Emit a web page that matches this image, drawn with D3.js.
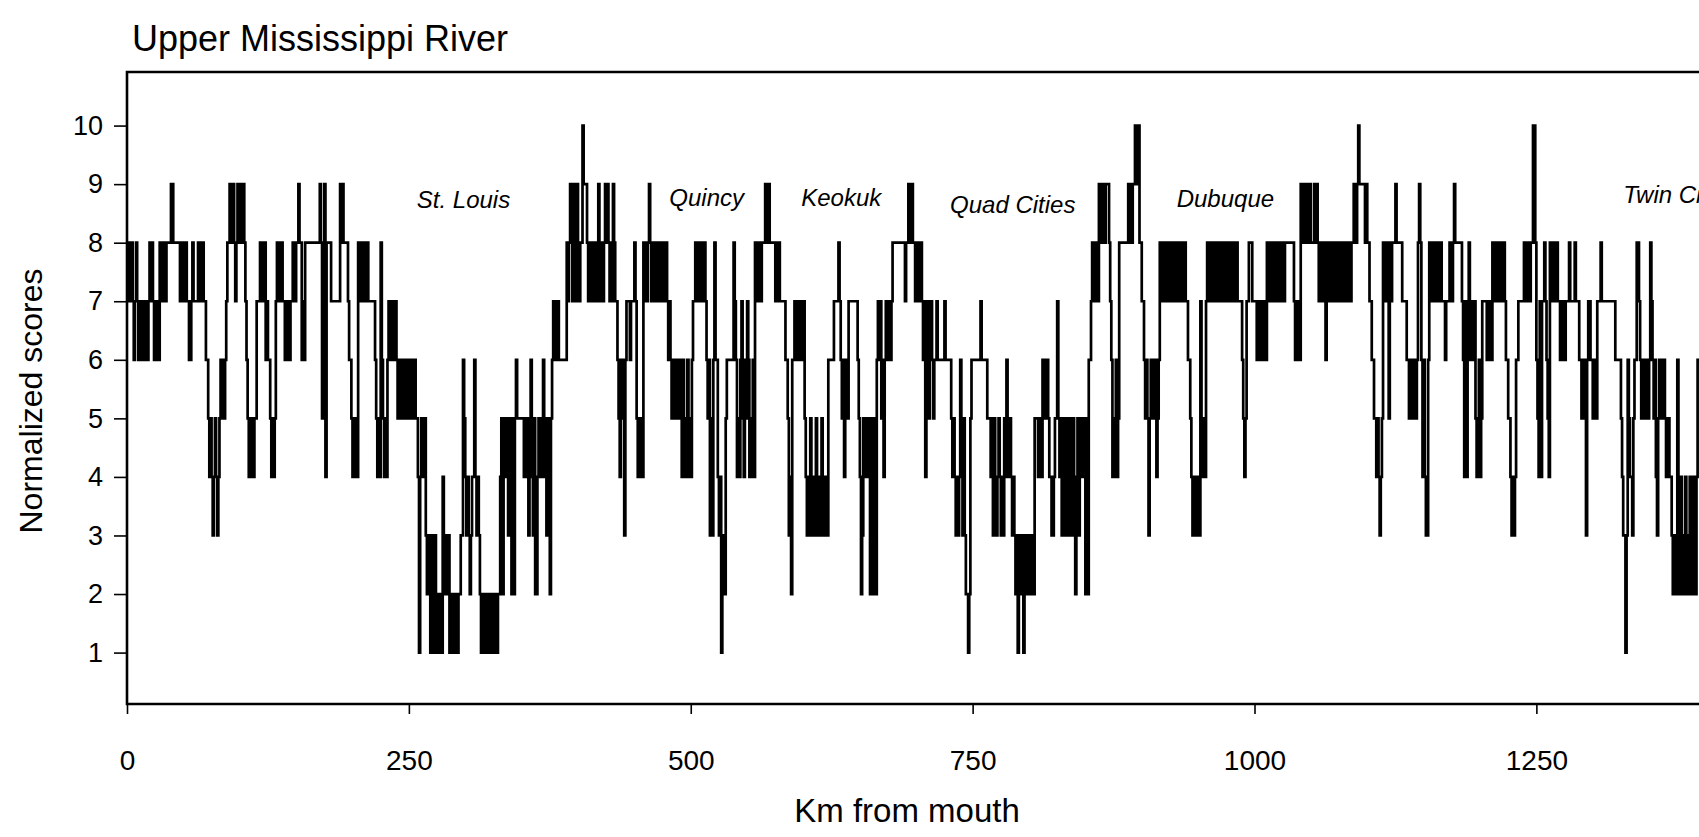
<!DOCTYPE html>
<html>
<head>
<meta charset="utf-8">
<script src="https://cdn.jsdelivr.net/npm/d3@7"></script>
<style>
  html, body { margin: 0; padding: 0; background: #ffffff; overflow: hidden; }
  svg { display: block; }
  text { font-family: "Liberation Sans", Arial, sans-serif; fill: #000; }
</style>
</head>
<body>
<svg id="chart" width="1699" height="837"></svg>
<script>
// ---------------- data ----------------
const chartTitle = "Upper Mississippi River";
const xLabel = "Km from mouth";
const yLabel = "Normalized scores";
const xTicks = [0, 250, 500, 750, 1000, 1250];
const yTicks = [1, 2, 3, 4, 5, 6, 7, 8, 9, 10];

const placeNames = ["St. Louis", "Quincy", "Keokuk", "Quad Cities", "Dubuque", "Twin Cities"];
const placeKm    = [257, 481, 598, 730, 931, 1327];
const placeScore = [8.59, 8.63, 8.63, 8.50, 8.61, 8.67];

// step series: [km from mouth, normalized score] (value holds until next km)
const scoreSteps = [
[0,8],[1,7],[2,8],[3,7],[4,8],[5,7],[6,6],[7,7],[8,8],[9,7],[10,6],[11,7],[12,6],[13,7],[14,6],[15,7],[16,6],[17,7],[18,6],[19,7],[20,8],[21,7],[22,8],[23,7],[24,6],[25,7],[26,6],[27,7],[28,6],[29,8],[30,7],[31,8],[32,7],[33,8],[34,7],[35,8],[39,9],[41,8],[47,7],[48,8],[49,7],[50,8],[51,7],[52,8],[53,7],[55,6],[57,7],[58,8],[59,7],[63,8],[64,7],[65,8],[66,7],[67,8],[68,7],[70,6],[72,5],[73,4],[74,5],[75,4],[76,3],[77,4],[78,5],[79,4],[80,3],[81,4],[82,5],[83,6],[84,5],[85,6],[86,5],[87,6],[88,7],[89,8],[91,9],[92,8],[94,9],[95,8],[96,7],[97,8],[98,9],[99,8],[100,9],[101,8],[103,9],[104,8],[105,7],[106,6],[107,5],[108,4],[109,5],[110,4],[111,5],[112,4],[113,5],[115,7],[118,8],[119,7],[120,8],[121,7],[122,8],[123,6],[124,7],[125,6],[127,5],[128,4],[129,5],[130,4],[131,5],[132,7],[133,8],[134,7],[135,8],[136,7],[137,8],[138,7],[140,6],[141,7],[142,6],[143,7],[144,6],[145,7],[147,8],[149,7],[150,8],[152,9],[153,8],[155,6],[156,7],[157,6],[158,8],
[171,9],[172,8],[173,5],[174,8],[175,9],[176,4],[177,8],[181,7],[189,9],[190,8],[191,9],[192,8],[196,7],[197,6],[199,5],[200,4],[201,5],[202,4],[203,5],[204,4],[205,8],[206,7],[207,8],[208,7],[209,8],[210,7],[211,8],[212,7],[213,8],[214,7],[220,6],[221,5],[222,4],[223,5],[224,4],[225,8],[226,6],[227,5],[228,4],[229,5],[230,4],[231,6],[232,7],[233,6],[234,7],[235,6],[236,7],[237,6],[238,7],[239,6],[240,5],[241,6],[242,5],[243,6],[244,5],[245,6],[246,5],[247,6],[248,5],[249,6],[250,5],[251,6],[252,5],[253,6],[254,5],[255,6],[256,5],[258,4],[259,1],[260,4],[261,5],[262,4],[263,5],[265,3],[266,2],[267,3],[268,2],[269,1],[270,3],[271,2],[272,1],[273,3],[274,2],[275,1],[276,2],[277,1],[278,2],[279,1],[280,4],[281,3],[282,2],[283,3],[284,2],[285,3],[286,1],[287,2],[288,1],[289,2],[290,1],[291,2],[293,1],[294,2],[296,3],[298,6],[299,5],[300,4],[301,3],[302,4],[303,3],[304,2],[305,3],[306,4],[308,6],[309,4],[310,3],[311,4],[312,3],[313,2],[314,1],[315,2],[316,1],[317,2],[318,1],[319,2],[320,1],[321,2],[322,1],[323,2],[324,1],[325,2],[326,1],[327,2],[328,1],[329,2],
[331,4],[332,5],[333,2],[334,5],[335,4],[336,5],[337,4],[338,3],[339,5],[340,4],[341,2],[342,5],[343,2],[344,5],[345,6],[346,5],[352,4],[353,5],[354,4],[355,5],[356,3],[357,4],[358,6],[359,4],[360,3],[361,5],[362,2],[364,4],[365,5],[366,4],[367,5],[368,4],[369,6],[370,5],[371,4],[372,3],[373,5],[374,4],[375,2],[376,5],[377,6],[378,7],[379,6],[380,7],[381,6],[382,7],[383,6],[390,8],[391,7],[392,8],[393,9],[394,8],[395,7],[396,9],[397,8],[398,7],[399,9],[400,8],[401,7],[402,8],[404,10],[405,9],[408,8],[409,7],[410,8],[411,7],[412,8],[413,7],[414,8],[415,7],[416,8],[417,7],[418,9],[419,8],[420,7],[421,8],[422,7],[423,8],[424,9],[425,8],[426,9],[427,8],[428,7],[429,8],[430,7],[431,9],[432,8],[433,7],[435,6],[436,5],[437,4],[438,6],[440,5],[441,3],[442,6],[443,7],[446,6],[447,7],[450,8],[451,7],[452,5],[453,4],[454,5],[455,4],[456,5],[457,4],[458,8],[459,7],[460,8],[461,7],[462,8],[463,9],[464,8],[465,7],[466,8],[467,7],[468,8],[469,7],[470,8],[471,7],[472,8],[473,7],[474,8],[475,7],[476,8],[477,7],[478,8],[479,7],[480,6],[481,7],[482,6],[483,5],[484,6],[485,5],[486,6],[487,5],[488,6],[489,5],[490,6],[491,5],[492,4],[493,6],[494,4],[495,5],[496,4],[497,6],[498,4],[499,5],[500,4],[501,6],[502,7],[504,8],
[505,7],[506,8],[507,7],[508,8],[509,7],[510,8],[511,7],[512,8],[513,7],[514,6],[515,5],[516,6],[517,3],[518,5],[519,3],[520,6],[521,8],[522,6],[524,4],[525,3],[526,4],[527,1],[528,2],[529,3],[530,2],[531,5],[532,6],[538,8],[539,7],[540,6],[541,4],[542,5],[543,4],[544,6],[545,7],[546,5],[547,4],[548,6],[549,5],[550,7],[551,6],[552,4],[553,5],[554,4],[555,6],[556,4],[557,8],[558,7],[559,8],[560,7],[561,8],[562,7],[563,8],[566,9],[568,8],[569,9],[570,8],[575,7],[576,8],[577,7],[578,8],[579,7],[584,6],[586,5],[587,3],[588,4],[589,2],[590,6],[592,7],[593,6],[594,7],[595,6],[596,7],[597,6],[598,7],[599,6],[600,7],[601,5],[602,4],[603,3],[604,4],[605,3],[606,5],[607,4],[608,3],[609,4],[610,3],[611,5],[612,4],[613,3],[614,4],[615,3],[616,5],[617,3],[618,4],[619,3],[620,4],[621,3],[622,6],[627,7],[631,8],[632,7],[633,6],[634,5],[635,6],[636,4],[637,5],[638,6],[639,5],[640,7],[648,6],[649,5],[650,4],[651,2],[652,3],[653,5],[654,4],[655,5],[656,4],[657,5],[658,4],[659,2],[660,5],[661,4],[662,2],[663,5],[664,2],[665,6],[666,7],[667,6],[668,7],[669,5],[670,6],[671,4],[672,6],[673,7],[675,6],[676,7],[677,6],[678,7],
[679,8],[690,7],[691,8],[693,9],[694,8],[695,9],[697,8],[699,7],[700,8],[702,7],[703,8],[705,7],[706,6],[707,7],[708,4],[709,6],[710,7],[711,5],[712,6],[713,7],[714,6],[715,5],[716,6],[718,7],[719,6],[725,7],[726,6],[731,5],[732,4],[733,5],[734,4],[735,3],[736,4],[737,3],[738,4],[739,6],[740,4],[741,3],[742,5],[743,3],[744,2],[746,1],[747,2],[748,5],[749,6],[757,7],[758,6],[763,5],[766,4],[767,5],[768,3],[769,5],[770,4],[771,3],[772,4],[773,5],[774,4],[775,3],[776,4],[777,3],[778,5],[779,4],[780,6],[781,5],[782,4],[783,5],[784,4],[785,3],[786,4],[787,3],[788,2],[789,3],[790,1],[791,2],[792,3],[793,2],[794,3],[795,1],[796,2],[797,3],[798,2],[799,3],[800,2],[801,3],[802,2],[803,3],[804,2],[805,5],[808,4],[809,5],[811,4],[812,6],[813,5],[814,6],[815,5],[816,6],[817,5],[818,4],[820,3],[822,4],[823,5],[825,7],[826,5],[827,4],[828,5],[829,3],[830,5],[831,4],[832,3],[833,5],[834,4],[835,3],[836,5],[837,3],[838,4],[839,5],[840,3],[841,2],[842,4],[843,5],[844,3],[845,4],
[846,5],[847,4],[848,5],[849,4],[850,2],[851,5],[852,2],[853,6],[855,7],[856,8],[857,7],[858,8],[859,7],[860,8],[861,7],[862,9],[863,8],[864,9],[865,8],[866,9],[867,8],[868,9],[871,8],[872,7],[873,6],[874,4],[875,5],[876,4],[877,6],[878,4],[879,5],[880,8],[888,9],[889,8],[890,9],[891,8],[892,9],[894,10],[896,9],[897,10],[898,8],[900,7],[902,6],[903,5],[904,6],[905,5],[906,3],[907,5],[908,6],[909,5],[910,6],[911,5],[912,6],[913,4],[914,5],[915,6],[916,8],[917,7],[918,8],[919,7],[920,8],[921,7],[922,8],[923,7],[924,8],[925,7],[926,8],[927,7],[928,8],[929,7],[930,8],[931,7],[932,8],[933,7],[934,8],[935,7],[936,8],[937,7],[938,8],[939,7],[941,6],[943,5],[944,4],[945,3],[946,4],[947,3],[948,4],[949,3],[950,4],[951,3],[952,7],[953,5],[954,4],[955,5],[956,4],[957,7],[958,8],[959,7],[960,8],[961,7],[962,8],[963,7],[964,8],[965,7],[966,8],[967,7],[968,8],[969,7],[970,8],[971,7],[972,8],[973,7],[974,8],[975,7],[976,8],[977,7],[978,8],[979,7],[980,8],[981,7],[982,8],[983,7],[984,8],[985,7],[989,6],[990,5],[991,4],[992,5],[993,7],[995,8],[998,7],[1002,6],[1003,7],[1004,6],[1005,7],[1006,6],[1007,7],[1008,6],[1009,7],[1010,6],[1011,8],[1012,7],
[1014,8],[1015,7],[1017,8],[1018,7],[1019,8],[1020,7],[1021,8],[1022,7],[1023,8],[1024,7],[1025,8],[1026,7],[1027,8],[1035,7],[1036,6],[1037,7],[1038,6],[1039,7],[1040,6],[1041,9],[1042,8],[1043,9],[1044,8],[1045,9],[1046,8],[1047,9],[1048,8],[1049,9],[1050,8],[1053,9],[1054,8],[1055,9],[1056,8],[1057,7],[1058,8],[1059,7],[1060,8],[1061,7],[1062,8],[1063,6],[1064,8],[1065,7],[1066,8],[1067,7],[1068,8],[1069,7],[1070,8],[1071,7],[1072,8],[1073,7],[1074,8],[1075,7],[1076,8],[1077,7],[1078,8],[1079,7],[1080,8],[1081,7],[1082,8],[1083,7],[1084,8],[1085,7],[1086,8],[1088,9],[1089,8],[1091,9],[1092,10],[1093,9],[1098,8],[1099,9],[1100,8],[1102,7],[1104,6],[1106,5],[1108,4],[1109,5],[1110,4],[1111,3],[1112,4],[1113,5],[1114,8],[1115,7],[1116,8],[1117,7],[1118,8],[1119,5],[1120,8],[1121,7],[1122,8],[1125,9],[1126,8],[1131,7],[1135,6],[1137,5],[1138,6],[1139,5],[1140,6],[1141,5],[1142,6],[1143,5],[1144,6],[1145,8],[1146,9],[1147,8],[1148,6],[1149,4],[1150,6],[1151,4],[1152,3],[1154,6],[1155,8],[1156,7],[1157,8],[1158,7],[1159,8],[1160,7],[1161,8],[1162,7],[1163,8],[1164,7],[1165,8],[1166,7],[1169,6],[1170,7],[1173,8],[1174,7],[1176,8],[1177,9],[1178,8],
[1184,7],[1185,6],[1186,4],[1187,7],[1188,4],[1189,6],[1190,8],[1191,7],[1192,6],[1193,7],[1194,6],[1195,7],[1196,5],[1197,4],[1198,5],[1199,6],[1200,4],[1201,5],[1202,7],[1206,6],[1208,7],[1209,6],[1211,8],[1212,7],[1213,8],[1214,7],[1215,8],[1216,7],[1217,8],[1218,7],[1219,8],[1220,7],[1221,8],[1222,7],[1223,6],[1225,5],[1227,4],[1228,3],[1229,4],[1230,3],[1231,4],[1232,6],[1234,7],[1239,8],[1240,7],[1241,8],[1242,7],[1243,8],[1244,7],[1245,8],[1247,10],[1249,8],[1250,6],[1251,5],[1252,4],[1253,7],[1254,4],[1255,7],[1257,8],[1258,7],[1259,6],[1260,5],[1261,4],[1262,8],[1263,7],[1264,8],[1265,7],[1266,8],[1267,7],[1268,8],[1269,7],[1271,6],[1273,7],[1275,6],[1276,7],[1279,8],[1280,7],[1284,8],[1285,7],[1288,6],[1290,5],[1292,6],[1294,3],[1295,6],[1296,7],[1298,6],[1300,5],[1302,6],[1303,5],[1304,7],[1307,8],[1308,7],[1320,6],[1325,5],[1326,4],[1327,3],[1329,1],[1330,3],[1331,6],[1332,5],[1333,4],[1335,3],[1336,5],[1337,6],[1339,8],[1341,7],[1342,6],[1343,5],[1344,6],[1345,5],[1346,6],[1347,5],[1348,6],[1349,5],[1350,6],[1351,8],[1352,7],[1353,6],[1354,5],[1355,6],[1356,4],[1357,3],[1358,5],[1359,6],[1360,5],[1361,6],[1362,5],[1363,6],[1364,5],[1365,4],[1367,5],[1368,4],[1370,3],[1371,2],[1372,3],[1373,2],[1374,3],[1375,6],[1376,2],[1377,3],[1378,4],[1379,2],[1380,3],[1381,2],[1382,4],[1383,2],[1384,3],[1385,2],[1386,4],[1387,3],[1388,2],[1389,4],[1390,3],[1391,2],[1392,4],[1393,6],[1420,6]
];

// ---------------- layout ----------------
const svg = d3.select("#chart");
const W = 1699, H = 837;
const plotLeft = 127, plotTop = 72, plotBottom = 704;
const pxPerKm = 1.1275;
const xMax = 1500;

const x = d3.scaleLinear().domain([0, xMax]).range([plotLeft, plotLeft + xMax * pxPerKm]);
const y = d3.scaleLinear().domain([0.122, 10.915]).range([plotBottom, plotTop]);

// clip for data
svg.append("defs").append("clipPath").attr("id", "plotClip")
  .append("rect")
  .attr("x", plotLeft).attr("y", plotTop)
  .attr("width", W - plotLeft).attr("height", plotBottom - plotTop);

// data line
const line = d3.line()
  .x(d => x(d[0]))
  .y(d => y(d[1]))
  .curve(d3.curveStepAfter);

svg.append("path")
  .datum(scoreSteps)
  .attr("clip-path", "url(#plotClip)")
  .attr("fill", "none")
  .attr("stroke", "#000")
  .attr("stroke-width", 2.7)
  .attr("stroke-linejoin", "miter")
  .attr("d", line);

// frame
const frameRight = x(xMax);
svg.append("path")
  .attr("fill", "none")
  .attr("stroke", "#000")
  .attr("stroke-width", 2.6)
  .attr("d", `M${frameRight},${plotTop}H${plotLeft}V${plotBottom}H${frameRight}`);

// axes
const yAxis = d3.axisLeft(y).tickValues(yTicks).tickSize(13).tickPadding(11).tickFormat(d3.format("d"));
const gy = svg.append("g").attr("transform", `translate(${plotLeft},0)`).call(yAxis);
gy.select(".domain").remove();
gy.selectAll(".tick line").attr("stroke", "#000").attr("stroke-width", 1.6);
gy.selectAll(".tick text").attr("font-size", 27).attr("font-family", "Liberation Sans, Arial, sans-serif").attr("fill", "#000");

const xAxis = d3.axisBottom(x).tickValues(xTicks).tickSize(10).tickPadding(36).tickFormat(d3.format("d"));
const gx = svg.append("g").attr("transform", `translate(0,${plotBottom})`).call(xAxis);
gx.select(".domain").remove();
gx.selectAll(".tick line").attr("stroke", "#000").attr("stroke-width", 1.6);
gx.selectAll(".tick text").attr("font-size", 28).attr("font-family", "Liberation Sans, Arial, sans-serif").attr("fill", "#000");

// place labels (the last one runs off the right edge, as in the source figure)
svg.append("g").attr("clip-path", "url(#plotClip)")
  .selectAll("text.place")
  .data(placeNames)
  .join("text")
  .attr("class", "place")
  .attr("x", (d, i) => x(placeKm[i]))
  .attr("y", (d, i) => y(placeScore[i]))
  .attr("font-size", 24)
  .attr("font-style", "italic")
  .text(d => d);

// title
svg.append("text")
  .attr("x", 132).attr("y", 51)
  .attr("font-size", 36)
  .text(chartTitle);

// axis titles
svg.append("text")
  .attr("x", 907).attr("y", 822)
  .attr("text-anchor", "middle")
  .attr("font-size", 33)
  .text(xLabel);

svg.append("text")
  .attr("transform", "translate(42,401) rotate(-90)")
  .attr("text-anchor", "middle")
  .attr("font-size", 32)
  .text(yLabel);
</script>
</body>
</html>
